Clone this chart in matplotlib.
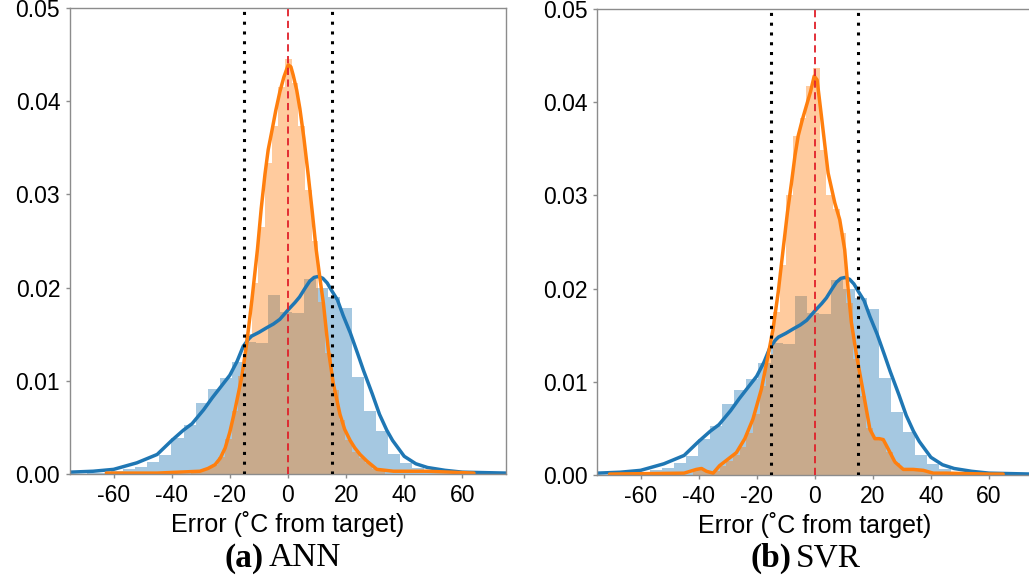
import numpy as np
import matplotlib.pyplot as plt

# Data (density values)
# baseline error distribution (blue), same in both panels
blue_bin_start = -73.2
blue_bin_width = 4.14
blue_heights = [0.00005, 0.0001, 0.0001, 0.0003, 0.0005, 0.0008, 0.0013, 0.0020,
                0.0039, 0.0053, 0.0076, 0.0091, 0.0103, 0.0120, 0.0142, 0.0141,
                0.0192, 0.0174, 0.0173, 0.0209, 0.0200, 0.0190, 0.0178, 0.0104,
                0.0068, 0.0046, 0.0022, 0.0012, 0.0006, 0.0003, 0.0002, 0.0001,
                0.0001, 0.00005]
blue_kde_x = [-75, -67, -60, -52, -45, -40, -36, -33, -29, -26, -23, -20, -17.5,
              -15.4, -13.5, -12.5, -10, -7.3, -5, -2.8, 0, 2.4, 4, 6, 7.5, 9,
              10.5, 12, 13.5, 15, 17, 19, 21.5, 24, 26, 29, 31.5, 34, 36, 40,
              44, 48, 54, 60, 75]
blue_kde_y = [0.0002, 0.0003, 0.0005, 0.0012, 0.0021, 0.0036, 0.0047, 0.0054,
              0.0069, 0.0082, 0.0094, 0.0106, 0.0121, 0.0137, 0.0145, 0.0148,
              0.0152, 0.0157, 0.0161, 0.0166, 0.0176, 0.0184, 0.0190, 0.0200,
              0.0207, 0.0211, 0.0212, 0.0210, 0.0205, 0.0197, 0.0187, 0.0170,
              0.0151, 0.0129, 0.0111, 0.0086, 0.0064, 0.0047, 0.0036, 0.0019,
              0.0011, 0.0007, 0.0004, 0.0002, 0.0001]

# ANN error distribution (orange)
ann_bin_start = -33.2
ann_bin_width = 2.3
ann_heights = [0.0003, 0.0004, 0.0006, 0.0010, 0.0018, 0.0038, 0.0068, 0.0105,
               0.0150, 0.0205, 0.0265, 0.0334, 0.0373, 0.0415, 0.0445, 0.0420,
               0.0373, 0.0305, 0.0250, 0.0185, 0.0130, 0.0090, 0.0058, 0.0036,
               0.0024, 0.0017, 0.0012, 0.0005, 0.0003]
ann_kde_x = [-62.5, -45, -30.3, -27.5, -25.1, -23.3, -21.6, -20, -18.3, -15.9,
             -14.2, -12.4, -10.5, -9.2, -7.9, -6.8, -5.6, -4.2, -2.8, -1.4, 0.1,
             1.0, 1.8, 3.0, 4.1, 5.5, 7.0, 8.4, 9.7, 11.0, 12.2, 13.9, 15.6, 17.9,
             19.5, 21.4, 23, 24.8, 27.1, 30.6, 36.3, 47.8, 64]
ann_kde_y = [0.0001, 0.0001, 0.0003, 0.0006, 0.0010, 0.0017, 0.0028, 0.0045,
             0.0068, 0.0104, 0.0140, 0.0187, 0.0241, 0.0285, 0.0322, 0.0348,
             0.0367, 0.0390, 0.0410, 0.0426, 0.0439, 0.0437, 0.0428, 0.0412,
             0.0392, 0.0360, 0.0320, 0.0280, 0.0241, 0.0210, 0.0183, 0.0133,
             0.0097, 0.0064, 0.0048, 0.0036, 0.0028, 0.0021, 0.0014, 0.0005,
             0.0003, 0.0003, 0.0001]

# SVR error distribution (orange)
svr_bin_start = -42.0
svr_bin_width = 2.3
svr_heights = [0.0006, 0.0005, 0.0003, 0.0004, 0.0010, 0.0015, 0.0022, 0.0030,
               0.0045, 0.0065, 0.0095, 0.0130, 0.0175, 0.0225, 0.0300, 0.0364,
               0.0383, 0.0417, 0.0437, 0.0349, 0.0300, 0.0285, 0.0260, 0.0185,
               0.0125, 0.0085, 0.0050, 0.0040, 0.0037, 0.0025, 0.0013, 0.0007,
               0.0006, 0.0005, 0.0004, 0.0002]
svr_kde_x = [-70.7, -45, -40.8, -39, -37.3, -35, -32.8, -29.9, -27, -24.1, -21.3,
             -18.4, -16.1, -14.4, -12.6, -10.9, -9.4, -8.0, -6.8, -5.7, -4.3,
             -2.9, -1.4, -0.2, 0.8, 2.3, 4.6, 6.9, 8.6, 10.3, 11.5, 12.6, 14.4,
             16.7, 19, 20.7, 22.2, 23.6, 25.3, 27.6, 30.5, 33.9, 37.4, 40.8,
             45.4, 60, 64.9]
svr_kde_y = [0.0001, 0.0002, 0.0006, 0.0007, 0.0004, 0.0002, 0.0010, 0.0017,
             0.0024, 0.0039, 0.0060, 0.0092, 0.0128, 0.0156, 0.0196, 0.0242,
             0.0282, 0.0314, 0.0343, 0.0364, 0.0381, 0.0396, 0.0412, 0.0428,
             0.0424, 0.0385, 0.0324, 0.0292, 0.0274, 0.0242, 0.0199, 0.0164,
             0.0128, 0.0089, 0.0049, 0.0039, 0.0039, 0.0038, 0.0028, 0.0014,
             0.0006, 0.0006, 0.0005, 0.0002, 0.0002, 0.0001, 0.0001]

x_ticks = [-60, -40, -20, 0, 20, 40, 60]
y_ticks = [0.00, 0.01, 0.02, 0.03, 0.04, 0.05]
tolerance = 15

blue = '#1f77b4'
orange = '#ff7f0e'
spine_gray = '#8c8c8c'

fig = plt.figure(figsize=(10.29, 5.79), dpi=100)
ax1 = fig.add_axes([0.0680, 0.1813, 0.4237, 0.8048])
ax2 = fig.add_axes([0.5802, 0.1796, 0.4232, 0.8048])


def draw_panel(ax, o_start, o_width, o_heights, o_kx, o_ky):
    b_left = blue_bin_start + blue_bin_width * np.arange(len(blue_heights))
    ax.bar(b_left, blue_heights, width=blue_bin_width, align='edge',
           color=blue, alpha=0.4, linewidth=0)
    o_left = o_start + o_width * np.arange(len(o_heights))
    ax.bar(o_left, o_heights, width=o_width, align='edge',
           color=orange, alpha=0.4, linewidth=0)
    ax.plot(blue_kde_x, blue_kde_y, color=blue, lw=2.5,
            solid_joinstyle='round', solid_capstyle='round')
    ax.plot(o_kx, o_ky, color=orange, lw=2.5,
            solid_joinstyle='round', solid_capstyle='round')

    ax.axvline(-tolerance, color='black', ls=(0, (1, 2.2)), lw=2.2, zorder=4)
    ax.axvline(tolerance, color='black', ls=(0, (1, 2.2)), lw=2.2, zorder=4)
    ax.axvline(0, color='#e0202a', ls=(0, (4, 2.5)), lw=1.3, zorder=4)

    ax.set_xlim(-75, 75)
    ax.set_ylim(0, 0.05)
    ax.set_xticks(x_ticks)
    ax.set_xticklabels([str(t) for t in x_ticks], fontsize=16.5, family='Liberation Sans')
    ax.set_yticks(y_ticks)
    ax.set_yticklabels([f'{t:.2f}' for t in y_ticks], fontsize=16.5, family='Liberation Sans')
    ax.tick_params(length=3, width=1, color=spine_gray, pad=4)
    for s in ax.spines.values():
        s.set_color(spine_gray)
        s.set_linewidth(1)
    ax.set_xlabel('Error (\u02daC from target)', fontsize=18, family='Liberation Sans',
                  labelpad=3)


draw_panel(ax1, ann_bin_start, ann_bin_width, ann_heights, ann_kde_x, ann_kde_y)
draw_panel(ax2, svr_bin_start, svr_bin_width, svr_heights, svr_kde_x, svr_kde_y)

# Sub-captions
fig.text(264 / 1029, 1 - 558 / 579, '(a)', fontsize=24, family='Liberation Serif',
         weight='bold', ha='right', va='center')
fig.text(269 / 1029, 1 - 558 / 579, 'ANN', fontsize=24, family='Liberation Serif',
         ha='left', va='center')
fig.text(791 / 1029, 1 - 558 / 579, '(b)', fontsize=24, family='Liberation Serif',
         weight='bold', ha='right', va='center')
fig.text(796 / 1029, 1 - 558 / 579, 'SVR', fontsize=24, family='Liberation Serif',
         ha='left', va='center')

fig.savefig('out.png', dpi=100)
